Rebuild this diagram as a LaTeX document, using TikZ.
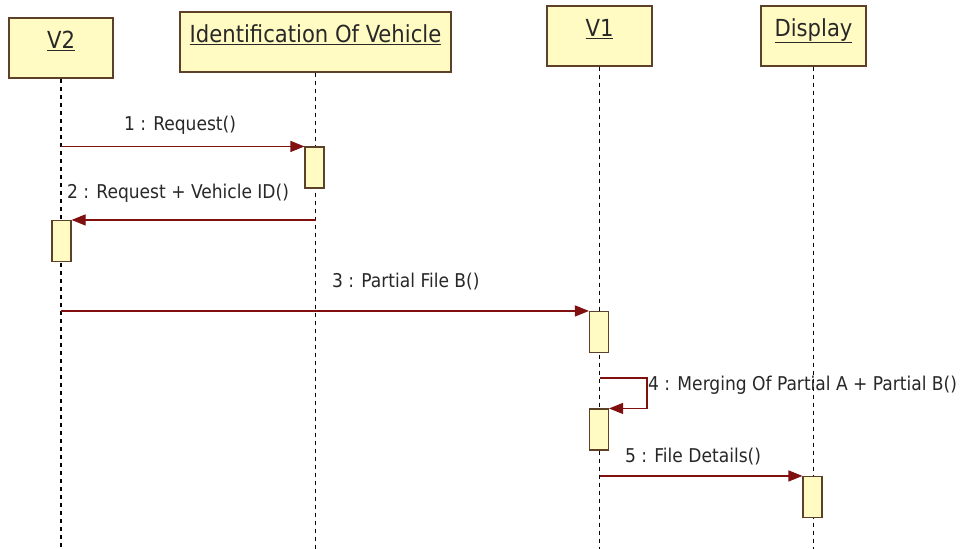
\documentclass[tikz,border=0pt]{standalone}
\usepackage{fontspec}
\setmainfont{DejaVu Sans Condensed}
\usetikzlibrary{arrows.meta,calc}
\definecolor{boxfill}{RGB}{255,251,194}
\definecolor{boxline}{RGB}{92,64,40}
\definecolor{msg}{RGB}{128,16,16}
\definecolor{txt}{RGB}{40,40,40}

\begin{document}
\begin{tikzpicture}[x=1pt,y=-1pt,
  objbox/.style={draw=boxline, fill=boxfill, line width=1.2pt, minimum height=60pt, inner sep=0pt},
  objname/.style={font=\fontsize{23.5}{26}\selectfont, text=txt, inner sep=0pt, anchor=base},
  lifeline/.style={draw=black, line width=1.4pt, dash pattern=on 4pt off 4pt},
  actbox/.style={draw=boxline, fill=boxfill, line width=1.1pt, minimum width=19pt, minimum height=41pt, inner sep=0pt},
  msgline/.style={draw=msg, line width=1.1pt, -{Triangle[length=14pt,width=11pt]}},
  msglabel/.style={font=\fontsize{19}{22}\selectfont, text=txt, inner sep=0pt}
]
\fill[white] (0,0) rectangle (967,549);
\useasboundingbox (0,0) rectangle (967,549);

% object boxes
\node[objbox, minimum width=104pt] (v2)   at (61,48)    {};
\node[objbox, minimum width=271pt] (idv)  at (315.5,42) {};
\node[objbox, minimum width=105pt] (v1)   at (599.5,36) {};
\node[objbox, minimum width=105pt] (disp) at (813.5,36) {};

\node[objname] (v2t)   at ($(v2.north)+(0,31)$)   {\underline{V2}};
\node[objname] (idvt)  at ($(idv.north)+(0,31)$)  {\underline{Identification Of Vehicle}};
\node[objname] (v1t)   at ($(v1.north)+(0,31)$)   {\underline{V1}};
\node[objname] (dispt) at ($(disp.north)+(0,31)$) {\underline{Display}};

% lifelines
\coordinate (bottom) at (0,549);
\draw[lifeline] (v2.south)   -- (v2.south |- bottom);
\draw[lifeline] (idv.south)  -- (idv.south |- bottom);
\draw[lifeline] (v1.south)   -- (v1.south |- bottom);
\draw[lifeline] (disp.south) -- (disp.south |- bottom);

% activations
\node[actbox] (a1) at (314.5,167.5) {};
\node[actbox] (a2) at (61.5,241)    {};
\node[actbox] (a3) at (599,332)     {};
\node[actbox] (a4) at (599,429.5)   {};
\node[actbox] (a5) at (812.5,497)   {};

% messages
\coordinate (y4) at (0,378);
\draw[msgline] (v2.south |- a1.north west) -- (a1.north west);
\draw[msgline] (idv.south |- a2.north east) -- (a2.north east);
\draw[msgline] (v2.south |- a3.north west) -- (a3.north west);
\draw[msgline] (v1.south |- y4) -- ++(47.5,0) |- (a4.north east);
\draw[msgline] (v1.south |- a5.north west) -- (a5.north west);

\node[msglabel] (l1) at (180,125) {1 : Request()};
\node[msglabel, anchor=west] (l2) at (67,193)  {2 : Request + Vehicle ID()};
\node[msglabel, anchor=west] (l3) at (332,282) {3 : Partial File B()};
\node[msglabel, anchor=west] (l4) at (648,385) {4 : Merging Of Partial A + Partial B()};
\node[msglabel, anchor=west] (l5) at (625,457) {5 : File Details()};
\end{tikzpicture}
\end{document}
